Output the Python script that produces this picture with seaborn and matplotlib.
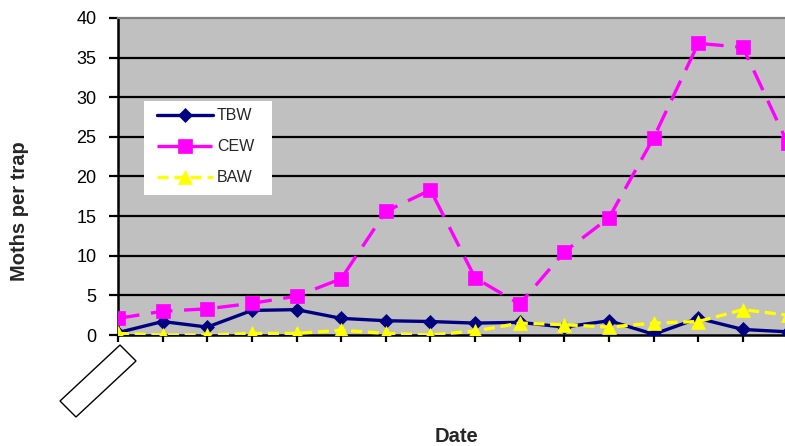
import numpy as np
import pandas as pd
import matplotlib
matplotlib.use("Agg")
import matplotlib.pyplot as plt
from matplotlib.patches import Polygon, Rectangle
import seaborn as sns

# Trap catches per sampling date (date labels left blank)
dates = list(range(16))
tbw = [0.3, 1.7, 1.0, 3.1, 3.2, 2.1, 1.8, 1.7, 1.5, 1.6, 1.0, 1.8, 0.1, 2.1, 0.7, 0.4]
cew = [2.1, 3.0, 3.3, 4.0, 4.9, 7.1, 15.6, 18.3, 7.2, 3.9, 10.5, 14.8, 24.9, 36.8, 36.3, 24.2]
baw = [0.2, 0.0, 0.0, 0.2, 0.2, 0.6, 0.2, 0.0, 0.5, 1.5, 1.3, 1.0, 1.5, 1.7, 3.2, 2.5]
y_ticks = [0, 5, 10, 15, 20, 25, 30, 35, 40]

df = pd.DataFrame({"Date": dates, "TBW": tbw, "CEW": cew, "BAW": baw})

sns.set_theme(style="white")
plt.rcParams["font.family"] = ["Liberation Sans", "DejaVu Sans"]

W, H = 785, 446
fig = plt.figure(figsize=(W / 100, H / 100), dpi=100)
fig.patch.set_facecolor("white")

px_per_cat = 44.64
x_max = 15.5
ax = fig.add_axes([118 / W, 111 / H, x_max * px_per_cat / W, 317 / H])
ax.set_facecolor("#C0C0C0")

series = [
    ("TBW", "#000080", "D", 7.5, "-"),
    ("CEW", "#FF00FF", "s", 10.5, (0, (6.5, 3.5))),
    ("BAW", "#FFFF00", "^", 9.5, (0, (3.3, 1.7))),
]
for name, color, marker, ms, ls in series:
    sns.lineplot(data=df, x="Date", y=name, ax=ax, color=color, marker=marker,
                 markersize=ms, markeredgecolor=color, markeredgewidth=0.5,
                 linewidth=2.4, linestyle=ls, label=name, zorder=3)

ax.set_xlim(0, x_max)
ax.set_ylim(0, 40)
ax.set_yticks(y_ticks)
ax.set_xticks(dates)
ax.set_xticklabels([""] * len(dates))
ax.set_xlabel("")
ax.set_ylabel("")
for y in y_ticks[1:-1]:
    ax.axhline(y, color="black", linewidth=1.6, zorder=1)

ax.tick_params(axis="y", direction="out", length=6.5, width=1.6, color="black",
               labelsize=13, pad=9, left=True, labelcolor="black")
ax.tick_params(axis="x", direction="out", length=5, width=1.6, color="black",
               bottom=True)
for side in ("left", "bottom"):
    ax.spines[side].set_color("black")
    ax.spines[side].set_linewidth(1.8)
ax.spines["top"].set_color("#808080")
ax.spines["top"].set_linewidth(1.6)
ax.spines["right"].set_visible(False)

# white legend panel
panel = Rectangle((144 / W, 1 - 195 / H), 128 / W, 94 / H,
                  transform=fig.transFigure, facecolor="white",
                  edgecolor="none", zorder=4)
ax.add_artist(panel)
panel.set_clip_on(False)

leg = ax.legend(loc="upper left", bbox_to_anchor=(150 / W, 1 - 101 / H),
                bbox_transform=fig.transFigure, borderaxespad=0,
                frameon=False, fontsize=11.5, handlelength=3.5,
                handletextpad=0.25, labelspacing=1.0, borderpad=0.45)
leg.set_zorder(5)

fig.text(19.5 / W, 1 - 211 / H, "Moths per trap", rotation=90, ha="center",
         va="center", fontsize=14.5, fontweight="bold")
fig.text(456 / W, 1 - 442 / H, "Date", ha="center", va="baseline",
         fontsize=14.5, fontweight="bold")

# empty rotated category label box
corners = [(60, 401), (76, 417), (136, 361), (120, 345)]
poly = Polygon([(x / W, 1 - y / H) for x, y in corners], closed=True,
               facecolor="white", edgecolor="black", linewidth=1.0,
               transform=fig.transFigure)
fig.patches.append(poly)

fig.savefig("out.png", dpi=100)
